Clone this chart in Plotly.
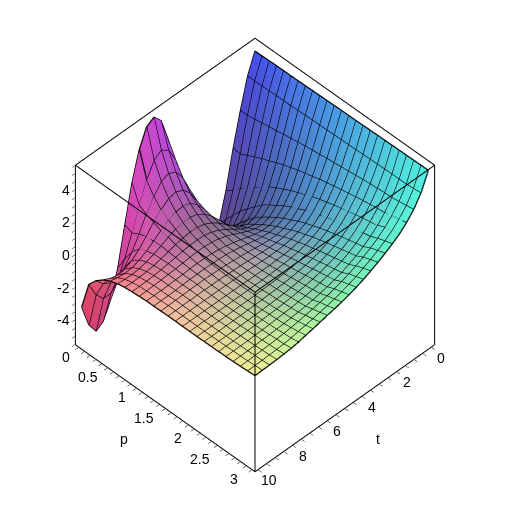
import numpy as np
import plotly.graph_objects as go

p_vals = [i * 0.125 for i in range(25)]
t_vals = [j * 10 / 24 for j in range(25)]

# z read per p row (p = 0 ... 3), across t = 0 ... 10
z_rows = [
[5.0,3.8,2.0,0.0,-2.3,-4.1,-5.1,-5.25,-4.4,-2.8,-.7,1.4,3.3,4.8,5.33,5.05,4.0,2.3,0,-2.4,-4.0,-5.0,-5.3,-4.6,-3.2],
[5.01,3.8,2.0,-.05,-1.99,-3.49,-4.31,-4.35,-3.64,-2.34,-.71,.96,2.38,3.32,3.64,3.32,2.45,1.2,-.2,-1.5,-2.48,-2.99,-2.96,-2.42,-1.49],
[5.02,3.81,2.08,.17,-1.58,-2.89,-3.59,-3.62,-3.04,-2.01,-.74,.53,1.59,2.28,2.52,2.32,1.75,.94,.05,-.76,-1.37,-1.69,-1.7,-1.43,-.95],
[5.03,3.82,2.17,.4,-1.18,-2.34,-2.95,-2.99,-2.54,-1.74,-.78,.17,.96,1.48,1.69,1.59,1.25,.76,.22,-.28,-.66,-.88,-.93,-.82,-.59],
[5.04,3.84,2.25,.6,-.84,-1.88,-2.43,-2.48,-2.13,-1.51,-.76,-.03,.57,.96,1.13,1.09,.88,.56,.22,-.09,-.33,-.48,-.52,-.47,-.36],
[5.04,3.84,2.31,.77,-.54,-1.46,-1.94,-2.0,-1.73,-1.25,-.69,-.15,.29,.59,.73,.73,.62,.44,.23,.03,-.13,-.23,-.27,-.26,-.21],
[5.05,3.86,2.41,.99,-.19,-1.02,-1.47,-1.57,-1.4,-1.06,-.66,-.26,.07,.3,.42,.44,.39,.3,.18,.06,-.04,-.1,-.13,-.14,-.12],
[5.06,3.87,2.48,1.15,.06,-.71,-1.14,-1.27,-1.17,-.93,-.63,-.32,-.06,.13,.24,.28,.26,.21,.14,.07,.01,-.03,-.06,-.07,-.07],
[5.07,3.89,2.55,1.3,.29,-.42,-.83,-.98,-.93,-.76,-.54,-.32,-.12,.03,.13,.18,.18,.15,.11,.07,.04,.01,-.01,-.03,-.04],
[5.08,3.91,2.63,1.46,.52,-.14,-.54,-.71,-.72,-.63,-.49,-.34,-.2,-.09,0,.06,.09,.09,.07,.04,.02,0,-.01,-.01,-.01],
[5.09,3.92,2.69,1.59,.72,.11,-.27,-.46,-.51,-.47,-.38,-.27,-.16,-.07,0,.04,.06,.07,.06,.05,.03,.01,-.01,-.01,-.01],
[5.1,3.93,2.74,1.7,.88,.3,-.07,-.27,-.35,-.35,-.3,-.23,-.16,-.1,-.05,-.01,.02,.04,.05,.05,.04,.03,.02,.01,0],
[5.11,3.95,2.82,1.85,1.09,.54,.18,-.04,-.16,-.2,-.19,-.16,-.12,-.08,-.05,-.03,-.01,.01,.01,.02,.02,.02,.02,.01,.01],
[5.11,3.96,2.86,1.94,1.23,.71,.36,.14,.01,-.06,-.09,-.09,-.07,-.05,-.03,-.01,0,0,.01,.01,.01,.01,.01,.01,.01],
[5.12,3.97,2.92,2.05,1.37,.87,.52,.29,.14,.05,0,-.02,-.03,-.03,-.03,-.02,-.01,-.01,0,0,0,0,0,0,0],
[5.13,3.98,2.97,2.15,1.51,1.04,.7,.46,.29,.18,.11,.07,.04,.02,.01,.01,0,0,0,0,0,0,0,0,0],
[5.14,4.0,3.03,2.24,1.63,1.17,.83,.58,.4,.28,.2,.14,.09,.06,.04,.03,.02,.01,.01,.01,0,0,0,0,0],
[5.15,4.01,3.08,2.34,1.76,1.31,.97,.72,.53,.39,.29,.22,.17,.13,.1,.08,.06,.05,.04,.03,.02,.02,.01,.01,.01],
[5.16,4.03,3.13,2.42,1.86,1.43,1.1,.84,.64,.49,.38,.3,.23,.17,.13,.1,.08,.06,.05,.04,.03,.02,.02,.02,.01],
[5.17,4.04,3.17,2.49,1.96,1.54,1.21,.95,.75,.6,.48,.38,.3,.24,.19,.15,.12,.1,.08,.06,.05,.04,.03,.03,.02],
[5.18,4.05,3.21,2.56,2.05,1.65,1.33,1.07,.86,.69,.56,.46,.37,.3,.24,.19,.16,.13,.1,.08,.07,.05,.04,.04,.03],
[5.18,4.05,3.23,2.61,2.13,1.75,1.44,1.18,.97,.79,.65,.54,.44,.36,.29,.24,.2,.16,.13,.11,.09,.07,.06,.05,.04],
[5.19,4.06,3.3,2.75,2.31,1.95,1.67,1.42,1.2,1.02,.86,.73,.61,.52,.43,.36,.29,.23,.18,.15,.12,.1,.08,.07,.06],
[5.2,4.1,3.37,2.85,2.43,2.1,1.83,1.58,1.37,1.17,1.0,.86,.73,.63,.54,.45,.37,.3,.22,.17,.14,.12,.1,.09,.09],
[5.2,4.15,3.45,2.95,2.55,2.25,1.98,1.74,1.52,1.32,1.15,1.0,.87,.77,.68,.58,.48,.39,.29,.23,.19,.16,.14,.13,.12],
]

p_labels = [0, 0.5, 1, 1.5, 2, 2.5, 3]
t_labels = [0, 2, 4, 6, 8, 10]
z_labels = [-4, -2, 0, 2, 4]
p_minor = 0.1
t_minor = 0.5
z_minor = 0.5
p_range = [-0.06, 3.06]
t_range = [-0.2, 10.2]
z_range = [-5.54, 5.54]

# surface colours: rows t = 0, 2.5, 5, 7.5, 10; columns p = 0, .75, 1.5, 2.25, 3
col_grid = np.array([
    [[72, 80, 245], [75, 125, 240], [75, 165, 235], [78, 205, 230], [80, 245, 228]],
    [[110, 70, 135], [85, 95, 155], [88, 140, 190], [100, 195, 200], [105, 245, 200]],
    [[185, 70, 235], [140, 110, 140], [168, 158, 168], [140, 195, 170], [140, 245, 170]],
    [[225, 70, 180], [195, 110, 165], [205, 175, 160], [190, 215, 160], [195, 245, 155]],
    [[250, 75, 115], [245, 140, 140], [245, 190, 160], [240, 220, 155], [240, 240, 150]],
], dtype=float)

Z = np.array(z_rows)
P = np.array(p_vals)
T = np.array(t_vals)
np_, nt = Z.shape
PP, TT = np.meshgrid(P, T, indexing="ij")

U = PP / 3.0
V = TT / 10.0
def base_colour(u, v):
    a = u * 4; b = v * 4
    i = np.clip(np.floor(a).astype(int), 0, 3); j = np.clip(np.floor(b).astype(int), 0, 3)
    fa = (a - i)[..., None]; fb = (b - j)[..., None]
    return ((1 - fa) * (1 - fb) * col_grid[j, i] + fa * (1 - fb) * col_grid[j, i + 1]
            + (1 - fa) * fb * col_grid[j + 1, i] + fa * fb * col_grid[j + 1, i + 1])
rgb = base_colour(U, V)
W = (Z - z_range[0]) / (z_range[1] - z_range[0])
dz_du = np.gradient(W, U[:, 0], axis=0)
dz_dv = np.gradient(W, V[0, :], axis=1)
n = np.stack([-dz_du, -dz_dv, np.ones_like(Z)], axis=-1)
n /= np.linalg.norm(n, axis=-1, keepdims=True)
L = np.array([0.5, 0.1, 0.85]); L /= np.linalg.norm(L)
shade = np.clip(0.92 + 0.14 * (n @ L), 0.85, 1.0)
rgb = np.clip(rgb * shade[..., None], 0, 255).astype(int)
vcol = ["#%02x%02x%02x" % tuple(c) for c in rgb.reshape(-1, 3)]

idx = np.arange(np_ * nt).reshape(np_, nt)
a = idx[:-1, :-1].ravel(); b = idx[1:, :-1].ravel(); c = idx[1:, 1:].ravel(); d = idx[:-1, 1:].ravel()

fig = go.Figure()
fig.add_trace(go.Mesh3d(
    x=TT.ravel(), y=PP.ravel(), z=Z.ravel(),
    i=np.r_[a, a], j=np.r_[b, c], k=np.r_[c, d],
    vertexcolor=vcol, flatshading=True,
    lighting=dict(ambient=1, diffuse=0, specular=0, roughness=1, fresnel=0),
    hoverinfo="skip", showscale=False))

lx, ly, lz = [], [], []
for i in range(np_):
    lx += list(T) + [None]; ly += [P[i]] * nt + [None]; lz += list(Z[i]) + [None]
for j in range(nt):
    lx += [T[j]] * np_ + [None]; ly += list(P) + [None]; lz += list(Z[:, j]) + [None]
fig.add_trace(go.Scatter3d(x=lx, y=ly, z=lz, mode="lines",
                           line=dict(color="black", width=2.5), hoverinfo="skip", showlegend=False))

# box edges, a hair inside the axis ranges so that clipping leaves them whole
def inset(r, f=0.002):
    d_ = (r[1] - r[0]) * f
    return r[0] + d_, r[1] - d_
t0, t1 = inset(t_range); p0, p1 = inset(p_range); z0, z1 = inset(z_range)
edges = [
    [(t0, p0, z1), (t1, p0, z1)], [(t1, p0, z1), (t1, p1, z1)], [(t1, p1, z1), (t0, p1, z1)], [(t0, p1, z1), (t0, p0, z1)],
    [(t1, p1, z0), (t1, p1, z1)], [(t1, p0, z0), (t1, p0, z1)], [(t0, p1, z0), (t0, p1, z1)],
    [(t1, p0, z0), (t1, p1, z0)], [(t1, p1, z0), (t0, p1, z0)],
]
bx, by, bz = [], [], []
for s_, e_ in edges:
    bx += [s_[0], e_[0], None]; by += [s_[1], e_[1], None]; bz += [s_[2], e_[2], None]
fig.add_trace(go.Scatter3d(x=bx, y=by, z=bz, mode="lines",
                           line=dict(color="black", width=2), hoverinfo="skip", showlegend=False))

def axis(rng, step):
    lo = np.ceil(rng[0] / step); hi = np.floor(rng[1] / step)
    vals = [round(k * step, 6) + 0.0 for k in np.arange(lo, hi + 1)]
    return dict(range=rng, tickmode="array", tickvals=vals, showticklabels=False,
                title=dict(text=""),
                showgrid=False, zeroline=False, showbackground=False, showspikes=False,
                showline=False, ticks="outside", ticklen=4, tickcolor="black", tickwidth=1)

lab_font = dict(size=14, color="black", family="Liberation Sans")
notes = []
for v in z_labels:
    notes.append(dict(x=t_range[1], y=p_range[0], z=v, text=str(v), showarrow=False, font=lab_font,
                      xanchor="right", yanchor="middle", xshift=-3, yshift=0))
for v in p_labels:
    notes.append(dict(x=t_range[1], y=v, z=z_range[0], text="%g" % v, showarrow=False, font=lab_font,
                      xanchor="right", yanchor="middle", xshift=-6 - 2 * v, yshift=-9))
for v in t_labels:
    notes.append(dict(x=v, y=p_range[1], z=z_range[0], text=str(v), showarrow=False, font=lab_font,
                      xanchor="center", yanchor="middle", xshift=9.5 + (1.5 if v == 10 else 0), yshift=-10))
notes.append(dict(x=t_range[1], y=1.5, z=z_range[0], text="p", showarrow=False, font=lab_font,
                  xanchor="center", yanchor="middle", xshift=-41, yshift=-30))
notes.append(dict(x=5, y=p_range[1], z=z_range[0], text="t", showarrow=False, font=lab_font,
                  xanchor="center", yanchor="middle", xshift=33, yshift=-30))

s = 1.0
fig.update_layout(
    width=510, height=510, autosize=False,
    margin=dict(l=0, r=0, t=0, b=0),
    paper_bgcolor="white", showlegend=False,
    scene=dict(
        domain=dict(x=[0, 1], y=[0, 1]),
        xaxis=axis(t_range, t_minor),
        yaxis=axis(p_range, p_minor),
        zaxis=axis(z_range, z_minor),
        aspectmode="manual", aspectratio=dict(x=1, y=1, z=1),
        annotations=notes,
        camera=dict(projection=dict(type="orthographic"),
                    eye=dict(x=s, y=s, z=s * 2 ** 0.5),
                    center=dict(x=0, y=0, z=0), up=dict(x=0, y=0, z=1)),
    ),
)
fig.write_html("out.html", config={"displayModeBar": False},
               post_script="document.body.style.margin='0';")
